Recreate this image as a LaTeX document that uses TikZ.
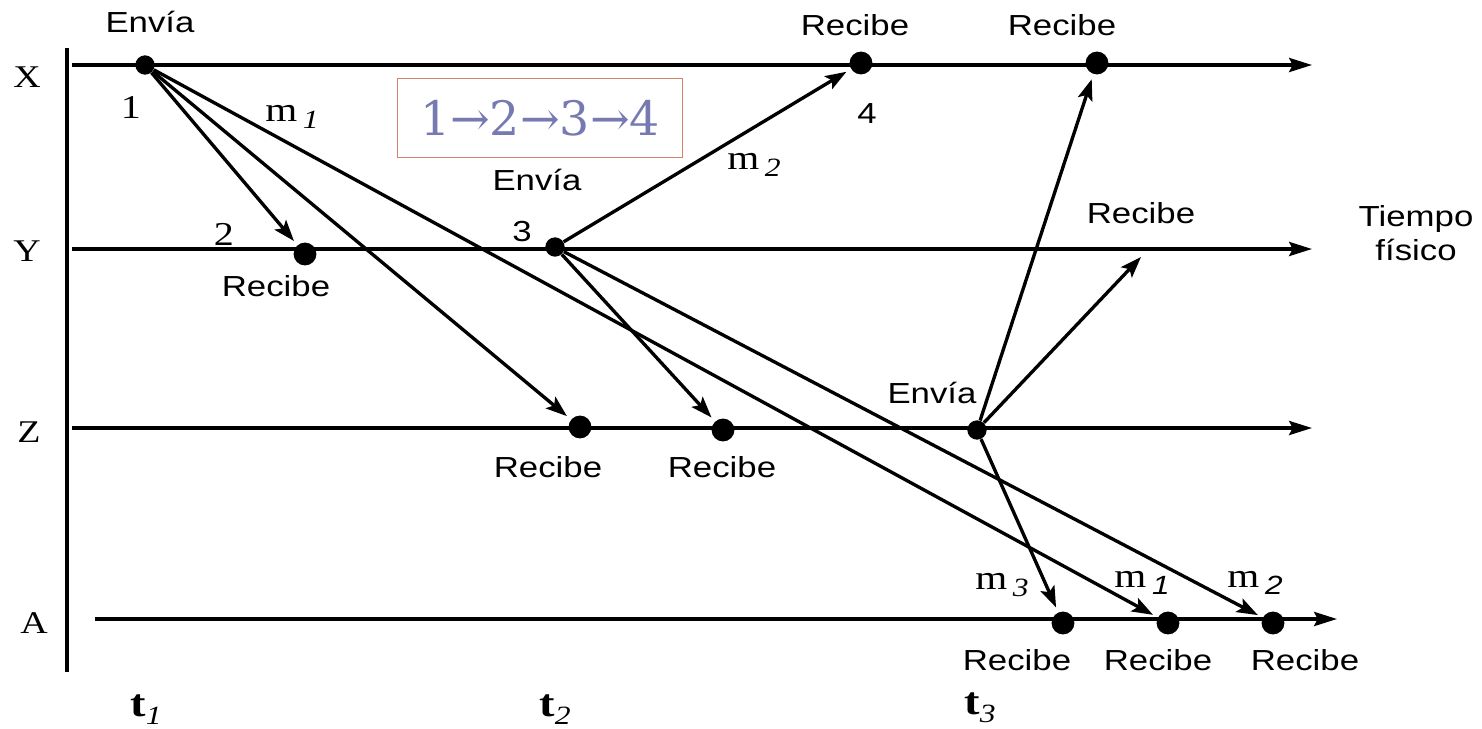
\documentclass[tikz,border=0pt]{standalone}
\usepackage{fontspec}
\setmainfont{Liberation Serif}[FakeStretch=1.2]
\setsansfont{Liberation Sans}[FakeStretch=1.2]
\newfontfamily\cajafont{DejaVu Serif}
\definecolor{cajaborde}{RGB}{214,130,110}
\definecolor{cajatexto}{RGB}{118,122,176}
\usetikzlibrary{arrows.meta}

% etiqueta de mensaje y de instante
\newcommand{\mlab}[2][\rmfamily]{m\,\raisebox{-0.45ex}{#1\fontsize{15}{15}\selectfont\itshape #2}}
\newcommand{\tlab}[1]{\textbf{t}\raisebox{-0.45ex}{\fontsize{15}{15}\selectfont\itshape #1}}

\begin{document}
\begin{tikzpicture}[x=0.02cm, y=-0.02cm,
  linea/.style={line width=1.9pt, -{Stealth[length=13pt,width=8pt,inset=2pt]}},
  mensaje/.style={line width=1.9pt, -{Stealth[length=12pt,width=8.5pt,inset=2.5pt]}, shorten >=3pt},
  punto/.style={circle, fill=black, inner sep=0pt, minimum size=13pt},
  envio/.style={circle, fill=black, inner sep=0pt, minimum size=11pt},
  etiq/.style={font=\sffamily\fontsize{16.5}{19}\selectfont, inner sep=0pt},
  proc/.style={font=\rmfamily\fontsize{18}{20}\selectfont, inner sep=0pt},
  num/.style={font=\rmfamily\fontsize{19}{21}\selectfont, inner sep=0pt},
  msg/.style={font=\rmfamily\fontsize{19.5}{21}\selectfont, inner sep=0pt}]

\useasboundingbox (0,0) rectangle (1482,728);

% --- eje vertical y lineas de tiempo ---
\draw[line width=1.9pt] (67,48) -- (67,672);
\coordinate (x0) at (72,65);   \coordinate (x1) at (1312,65);
\coordinate (y0) at (72,249);  \coordinate (y1) at (1312,249);
\coordinate (z0) at (72,428);  \coordinate (z1) at (1312,428);
\coordinate (a0) at (95,619);  \coordinate (a1) at (1337,619);
\draw[linea] (x0) -- (x1);
\draw[linea] (y0) -- (y1);
\draw[linea] (z0) -- (z1);
\draw[linea] (a0) -- (a1);

\node[proc] (lx) at (27,77) {X};
\node[proc] (ly) at (27,251) {Y};
\node[proc] (lz) at (29,432) {Z};
\node[proc] (la) at (34,623) {A};

\node[etiq, align=center] (tiempo) at (1416,233) {Tiempo\\físico};

% --- caja con el orden ---
\node[draw=cajaborde, line width=1pt, minimum width=5.7cm, minimum height=1.58cm,
      text=cajatexto, font=\cajafont\fontsize{27}{30}\selectfont, inner sep=0pt]
      (orden) at (540,118) {1→2→3→4};

% --- eventos ---
\node[envio] (e1) at (145,65) {};
\node[punto] (r2) at (305,254) {};
\node[envio] (e3) at (555,247) {};
\node[punto] (r4) at (861,63) {};
\node[punto] (rx) at (1097,63) {};
\node[punto] (rz1) at (580,427) {};
\node[punto] (rz2) at (723,430) {};
\node[envio] (ez) at (977,430) {};
\node[punto] (ra1) at (1063,623) {};
\node[punto] (ra2) at (1168,623) {};
\node[punto] (ra3) at (1273,623) {};
\coordinate (ry) at (1141,257);

% --- mensajes ---
\draw[mensaje] (e1) -- (r2);
\draw[mensaje] (e1) -- (rz1);
\draw[mensaje] (e1) -- (ra2);
\draw[mensaje] (e3) -- (r4);
\draw[mensaje] (e3) -- (rz2);
\draw[mensaje] (e3) -- (ra3);
\draw[mensaje] (ez) -- (rx);
\draw[mensaje, shorten >=0pt] (ez) -- (ry);
\draw[mensaje] (ez) -- (ra1);

% --- rotulos ---
\node[etiq] (t-e1) at (150,22) {Envía};
\node[num] (n1) at (131,107) {1};
\node[msg] (m1a) at (292,117) {\mlab{1}};
\node[num] (n2) at (224,234) {2};
\node[etiq] (t-r2) at (276,286) {Recibe};
\node[etiq] (t-e3) at (537,180) {Envía};
\node[etiq] (n3) at (522,232) {3};
\node[msg] (m2a) at (754,165) {\mlab{2}};
\node[etiq] (t-r4) at (855,25) {Recibe};
\node[etiq] (n4) at (867,114) {4};
\node[etiq] (t-rx) at (1062,25) {Recibe};
\node[etiq] (t-ry) at (1141,213) {Recibe};
\node[etiq] (t-rz1) at (548,467) {Recibe};
\node[etiq] (t-rz2) at (722,467) {Recibe};
\node[etiq] (t-ez) at (932,393) {Envía};
\node[msg] (m3) at (1002,585) {\mlab{3}};
\node[msg] (m1b) at (1142,583) {\mlab[\sffamily]{1}};
\node[msg] (m2b) at (1255,583) {\mlab[\sffamily]{2}};
\node[etiq] (t-ra1) at (1017,660) {Recibe};
\node[etiq] (t-ra2) at (1158,660) {Recibe};
\node[etiq] (t-ra3) at (1305,660) {Recibe};

% --- instantes ---
\node[msg, font=\rmfamily\fontsize{22}{24}\selectfont] (t1) at (146,710) {\tlab{1}};
\node[msg, font=\rmfamily\fontsize{22}{24}\selectfont] (t2) at (555,710) {\tlab{2}};
\node[msg, font=\rmfamily\fontsize{22}{24}\selectfont] (t3) at (980,708) {\tlab{3}};

\end{tikzpicture}
\end{document}
